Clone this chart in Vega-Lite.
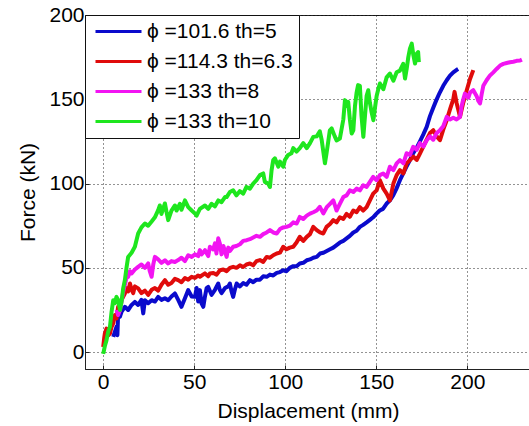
{
  "$schema": "https://vega.github.io/schema/vega-lite/v6.json",
  "width": 446,
  "height": 354,
  "autosize": {"type": "none"},
  "padding": {"left": 85, "top": 15, "right": 0, "bottom": 57},
  "background": "white",
  "config": {
    "view": {"stroke": "#222", "strokeWidth": 1},
    "font": "Liberation Sans",
    "axis": {
      "domainColor": "#222",
      "domainWidth": 1,
      "grid": true,
      "gridColor": "#000",
      "gridDash": [1, 3],
      "gridOpacity": 0.85,
      "ticks": true,
      "tickSize": -4,
      "tickColor": "#222",
      "labelFont": "Liberation Sans",
      "labelFontSize": 21,
      "labelColor": "#000",
      "titleFont": "Liberation Sans",
      "titleFontSize": 21,
      "titleFontWeight": "normal",
      "titleColor": "#000"
    }
  },
  "datasets": {
    "curves": [
      {"s": "ϕ =101.6 th=5", "x": 5.5, "y": 9}, {"s": "ϕ =101.6 th=5", "x": 6.4, "y": 12}, {"s": "ϕ =101.6 th=5", "x": 7.3, "y": 15}, {"s": "ϕ =101.6 th=5", "x": 7.8, "y": 10}, {"s": "ϕ =101.6 th=5", "x": 8.2, "y": 23}, {"s": "ϕ =101.6 th=5", "x": 9.2, "y": 21}, {"s": "ϕ =101.6 th=5", "x": 10.1, "y": 24}, {"s": "ϕ =101.6 th=5", "x": 11.9, "y": 26.9}, {"s": "ϕ =101.6 th=5", "x": 13.7, "y": 25}, {"s": "ϕ =101.6 th=5", "x": 15.6, "y": 28}, {"s": "ϕ =101.6 th=5", "x": 17.4, "y": 29.8}, {"s": "ϕ =101.6 th=5", "x": 19.2, "y": 28}, {"s": "ϕ =101.6 th=5", "x": 21, "y": 31}, {"s": "ϕ =101.6 th=5", "x": 22, "y": 23}, {"s": "ϕ =101.6 th=5", "x": 22.9, "y": 30.8}, {"s": "ϕ =101.6 th=5", "x": 24.7, "y": 29}, {"s": "ϕ =101.6 th=5", "x": 26.6, "y": 30.8}, {"s": "ϕ =101.6 th=5", "x": 28.4, "y": 30}, {"s": "ϕ =101.6 th=5", "x": 30.2, "y": 32.8}, {"s": "ϕ =101.6 th=5", "x": 32, "y": 31}, {"s": "ϕ =101.6 th=5", "x": 33.9, "y": 32}, {"s": "ϕ =101.6 th=5", "x": 35.7, "y": 30.8}, {"s": "ϕ =101.6 th=5", "x": 37.5, "y": 33}, {"s": "ϕ =101.6 th=5", "x": 39.4, "y": 34.8}, {"s": "ϕ =101.6 th=5", "x": 41.2, "y": 31}, {"s": "ϕ =101.6 th=5", "x": 43, "y": 26.9}, {"s": "ϕ =101.6 th=5", "x": 44.9, "y": 32}, {"s": "ϕ =101.6 th=5", "x": 46.7, "y": 36.8}, {"s": "ϕ =101.6 th=5", "x": 48.6, "y": 33}, {"s": "ϕ =101.6 th=5", "x": 50.4, "y": 32.8}, {"s": "ϕ =101.6 th=5", "x": 51.3, "y": 38}, {"s": "ϕ =101.6 th=5", "x": 52.2, "y": 30}, {"s": "ϕ =101.6 th=5", "x": 53.1, "y": 36.8}, {"s": "ϕ =101.6 th=5", "x": 54, "y": 29}, {"s": "ϕ =101.6 th=5", "x": 55, "y": 26.9}, {"s": "ϕ =101.6 th=5", "x": 55.9, "y": 33}, {"s": "ϕ =101.6 th=5", "x": 56.8, "y": 38}, {"s": "ϕ =101.6 th=5", "x": 57.7, "y": 38.7}, {"s": "ϕ =101.6 th=5", "x": 59.5, "y": 34}, {"s": "ϕ =101.6 th=5", "x": 61.4, "y": 37}, {"s": "ϕ =101.6 th=5", "x": 63.2, "y": 40.7}, {"s": "ϕ =101.6 th=5", "x": 64.1, "y": 36.8}, {"s": "ϕ =101.6 th=5", "x": 65, "y": 35}, {"s": "ϕ =101.6 th=5", "x": 66.9, "y": 38}, {"s": "ϕ =101.6 th=5", "x": 68.7, "y": 39}, {"s": "ϕ =101.6 th=5", "x": 69.6, "y": 40.7}, {"s": "ϕ =101.6 th=5", "x": 70.5, "y": 36}, {"s": "ϕ =101.6 th=5", "x": 71.4, "y": 32.8}, {"s": "ϕ =101.6 th=5", "x": 72.3, "y": 37}, {"s": "ϕ =101.6 th=5", "x": 73.3, "y": 40.7}, {"s": "ϕ =101.6 th=5", "x": 75.1, "y": 39}, {"s": "ϕ =101.6 th=5", "x": 76.9, "y": 41}, {"s": "ϕ =101.6 th=5", "x": 78.7, "y": 40}, {"s": "ϕ =101.6 th=5", "x": 80.6, "y": 42.7}, {"s": "ϕ =101.6 th=5", "x": 82.4, "y": 41.5}, {"s": "ϕ =101.6 th=5", "x": 84.2, "y": 43}, {"s": "ϕ =101.6 th=5", "x": 86.1, "y": 43}, {"s": "ϕ =101.6 th=5", "x": 87.9, "y": 45}, {"s": "ϕ =101.6 th=5", "x": 89.8, "y": 44.7}, {"s": "ϕ =101.6 th=5", "x": 91.6, "y": 46}, {"s": "ϕ =101.6 th=5", "x": 93.4, "y": 45.5}, {"s": "ϕ =101.6 th=5", "x": 95.3, "y": 47}, {"s": "ϕ =101.6 th=5", "x": 97.1, "y": 47.5}, {"s": "ϕ =101.6 th=5", "x": 98.9, "y": 48.6}, {"s": "ϕ =101.6 th=5", "x": 100.7, "y": 48}, {"s": "ϕ =101.6 th=5", "x": 102.5, "y": 50}, {"s": "ϕ =101.6 th=5", "x": 104.4, "y": 51}, {"s": "ϕ =101.6 th=5", "x": 106.2, "y": 51}, {"s": "ϕ =101.6 th=5", "x": 108, "y": 52.6}, {"s": "ϕ =101.6 th=5", "x": 109.9, "y": 53}, {"s": "ϕ =101.6 th=5", "x": 111.8, "y": 54.5}, {"s": "ϕ =101.6 th=5", "x": 113.6, "y": 55}, {"s": "ϕ =101.6 th=5", "x": 115.4, "y": 56}, {"s": "ϕ =101.6 th=5", "x": 117.3, "y": 56.5}, {"s": "ϕ =101.6 th=5", "x": 119.1, "y": 58.5}, {"s": "ϕ =101.6 th=5", "x": 121, "y": 59}, {"s": "ϕ =101.6 th=5", "x": 122.8, "y": 60}, {"s": "ϕ =101.6 th=5", "x": 124.6, "y": 61}, {"s": "ϕ =101.6 th=5", "x": 126.4, "y": 62}, {"s": "ϕ =101.6 th=5", "x": 128.2, "y": 63.5}, {"s": "ϕ =101.6 th=5", "x": 130, "y": 65}, {"s": "ϕ =101.6 th=5", "x": 131.9, "y": 66}, {"s": "ϕ =101.6 th=5", "x": 133.7, "y": 67.5}, {"s": "ϕ =101.6 th=5", "x": 135.5, "y": 69}, {"s": "ϕ =101.6 th=5", "x": 137.4, "y": 71}, {"s": "ϕ =101.6 th=5", "x": 139.2, "y": 72}, {"s": "ϕ =101.6 th=5", "x": 141, "y": 74.3}, {"s": "ϕ =101.6 th=5", "x": 142.8, "y": 75.5}, {"s": "ϕ =101.6 th=5", "x": 144.7, "y": 77}, {"s": "ϕ =101.6 th=5", "x": 146.5, "y": 78.5}, {"s": "ϕ =101.6 th=5", "x": 148.3, "y": 80}, {"s": "ϕ =101.6 th=5", "x": 150, "y": 82}, {"s": "ϕ =101.6 th=5", "x": 151.9, "y": 84}, {"s": "ϕ =101.6 th=5", "x": 153.7, "y": 85}, {"s": "ϕ =101.6 th=5", "x": 155.6, "y": 88}, {"s": "ϕ =101.6 th=5", "x": 157.5, "y": 90}, {"s": "ϕ =101.6 th=5", "x": 159.3, "y": 93}, {"s": "ϕ =101.6 th=5", "x": 161.1, "y": 97}, {"s": "ϕ =101.6 th=5", "x": 163, "y": 102}, {"s": "ϕ =101.6 th=5", "x": 164.8, "y": 106}, {"s": "ϕ =101.6 th=5", "x": 166.6, "y": 110}, {"s": "ϕ =101.6 th=5", "x": 168.5, "y": 114}, {"s": "ϕ =101.6 th=5", "x": 170.3, "y": 118}, {"s": "ϕ =101.6 th=5", "x": 172.1, "y": 121}, {"s": "ϕ =101.6 th=5", "x": 174, "y": 125}, {"s": "ϕ =101.6 th=5", "x": 175.8, "y": 129}, {"s": "ϕ =101.6 th=5", "x": 177.7, "y": 133.6}, {"s": "ϕ =101.6 th=5", "x": 179.5, "y": 140}, {"s": "ϕ =101.6 th=5", "x": 181.3, "y": 145}, {"s": "ϕ =101.6 th=5", "x": 183, "y": 149.5}, {"s": "ϕ =101.6 th=5", "x": 184.9, "y": 154}, {"s": "ϕ =101.6 th=5", "x": 186.8, "y": 158}, {"s": "ϕ =101.6 th=5", "x": 188.7, "y": 161.3}, {"s": "ϕ =101.6 th=5", "x": 190.5, "y": 164}, {"s": "ϕ =101.6 th=5", "x": 192.3, "y": 166}, {"s": "ϕ =101.6 th=5", "x": 194.2, "y": 167.5}, {"s": "ϕ =101.6 th=5", "x": 195, "y": 168},

      {"s": "ϕ =114.3 th=6.3", "x": 0, "y": 3}, {"s": "ϕ =114.3 th=6.3", "x": 0.5, "y": 8}, {"s": "ϕ =114.3 th=6.3", "x": 0.9, "y": 11}, {"s": "ϕ =114.3 th=6.3", "x": 1.8, "y": 14}, {"s": "ϕ =114.3 th=6.3", "x": 2.8, "y": 10}, {"s": "ϕ =114.3 th=6.3", "x": 3.7, "y": 11}, {"s": "ϕ =114.3 th=6.3", "x": 4.6, "y": 15}, {"s": "ϕ =114.3 th=6.3", "x": 5.5, "y": 17}, {"s": "ϕ =114.3 th=6.3", "x": 6.4, "y": 22}, {"s": "ϕ =114.3 th=6.3", "x": 7.3, "y": 20}, {"s": "ϕ =114.3 th=6.3", "x": 8.2, "y": 26.9}, {"s": "ϕ =114.3 th=6.3", "x": 9.2, "y": 29}, {"s": "ϕ =114.3 th=6.3", "x": 10.1, "y": 31}, {"s": "ϕ =114.3 th=6.3", "x": 11.9, "y": 34.8}, {"s": "ϕ =114.3 th=6.3", "x": 12.8, "y": 38}, {"s": "ϕ =114.3 th=6.3", "x": 13.7, "y": 36}, {"s": "ϕ =114.3 th=6.3", "x": 14.7, "y": 40.7}, {"s": "ϕ =114.3 th=6.3", "x": 15.6, "y": 37}, {"s": "ϕ =114.3 th=6.3", "x": 16.5, "y": 35}, {"s": "ϕ =114.3 th=6.3", "x": 17.4, "y": 39}, {"s": "ϕ =114.3 th=6.3", "x": 19.2, "y": 37.8}, {"s": "ϕ =114.3 th=6.3", "x": 21, "y": 35}, {"s": "ϕ =114.3 th=6.3", "x": 22.9, "y": 36.5}, {"s": "ϕ =114.3 th=6.3", "x": 24.7, "y": 34}, {"s": "ϕ =114.3 th=6.3", "x": 26.6, "y": 37}, {"s": "ϕ =114.3 th=6.3", "x": 28.4, "y": 38}, {"s": "ϕ =114.3 th=6.3", "x": 30.2, "y": 36.5}, {"s": "ϕ =114.3 th=6.3", "x": 32, "y": 40}, {"s": "ϕ =114.3 th=6.3", "x": 33.9, "y": 42.7}, {"s": "ϕ =114.3 th=6.3", "x": 35.7, "y": 40}, {"s": "ϕ =114.3 th=6.3", "x": 37.5, "y": 41}, {"s": "ϕ =114.3 th=6.3", "x": 39.4, "y": 43.5}, {"s": "ϕ =114.3 th=6.3", "x": 41.2, "y": 42.7}, {"s": "ϕ =114.3 th=6.3", "x": 43, "y": 41.5}, {"s": "ϕ =114.3 th=6.3", "x": 44.9, "y": 44}, {"s": "ϕ =114.3 th=6.3", "x": 46.7, "y": 43}, {"s": "ϕ =114.3 th=6.3", "x": 48.6, "y": 44.7}, {"s": "ϕ =114.3 th=6.3", "x": 50.4, "y": 44}, {"s": "ϕ =114.3 th=6.3", "x": 52.2, "y": 45.5}, {"s": "ϕ =114.3 th=6.3", "x": 53.1, "y": 44.7}, {"s": "ϕ =114.3 th=6.3", "x": 55.9, "y": 46.7}, {"s": "ϕ =114.3 th=6.3", "x": 57.7, "y": 45}, {"s": "ϕ =114.3 th=6.3", "x": 58.6, "y": 46.7}, {"s": "ϕ =114.3 th=6.3", "x": 60.5, "y": 47}, {"s": "ϕ =114.3 th=6.3", "x": 62.3, "y": 46}, {"s": "ϕ =114.3 th=6.3", "x": 64.1, "y": 48.6}, {"s": "ϕ =114.3 th=6.3", "x": 66, "y": 49}, {"s": "ϕ =114.3 th=6.3", "x": 67.8, "y": 48}, {"s": "ϕ =114.3 th=6.3", "x": 69.6, "y": 50}, {"s": "ϕ =114.3 th=6.3", "x": 71.4, "y": 50.6}, {"s": "ϕ =114.3 th=6.3", "x": 73.2, "y": 50}, {"s": "ϕ =114.3 th=6.3", "x": 75.1, "y": 51.5}, {"s": "ϕ =114.3 th=6.3", "x": 76.9, "y": 50.5}, {"s": "ϕ =114.3 th=6.3", "x": 78.7, "y": 52}, {"s": "ϕ =114.3 th=6.3", "x": 80.6, "y": 52.6}, {"s": "ϕ =114.3 th=6.3", "x": 82.4, "y": 51.5}, {"s": "ϕ =114.3 th=6.3", "x": 84.2, "y": 54}, {"s": "ϕ =114.3 th=6.3", "x": 86.1, "y": 54.6}, {"s": "ϕ =114.3 th=6.3", "x": 87.9, "y": 53.5}, {"s": "ϕ =114.3 th=6.3", "x": 89.8, "y": 56.5}, {"s": "ϕ =114.3 th=6.3", "x": 91.6, "y": 56}, {"s": "ϕ =114.3 th=6.3", "x": 93.4, "y": 57.5}, {"s": "ϕ =114.3 th=6.3", "x": 95.3, "y": 58.5}, {"s": "ϕ =114.3 th=6.3", "x": 97.1, "y": 59}, {"s": "ϕ =114.3 th=6.3", "x": 98.9, "y": 62.5}, {"s": "ϕ =114.3 th=6.3", "x": 100.7, "y": 61}, {"s": "ϕ =114.3 th=6.3", "x": 102.5, "y": 62}, {"s": "ϕ =114.3 th=6.3", "x": 104.4, "y": 62.5}, {"s": "ϕ =114.3 th=6.3", "x": 106.2, "y": 65}, {"s": "ϕ =114.3 th=6.3", "x": 108, "y": 68.4}, {"s": "ϕ =114.3 th=6.3", "x": 109.9, "y": 66}, {"s": "ϕ =114.3 th=6.3", "x": 111.8, "y": 68.4}, {"s": "ϕ =114.3 th=6.3", "x": 113.6, "y": 70}, {"s": "ϕ =114.3 th=6.3", "x": 115.4, "y": 74.3}, {"s": "ϕ =114.3 th=6.3", "x": 117.3, "y": 72.4}, {"s": "ϕ =114.3 th=6.3", "x": 119.1, "y": 71}, {"s": "ϕ =114.3 th=6.3", "x": 120.9, "y": 70.4}, {"s": "ϕ =114.3 th=6.3", "x": 122.7, "y": 74.3}, {"s": "ϕ =114.3 th=6.3", "x": 124.6, "y": 76}, {"s": "ϕ =114.3 th=6.3", "x": 126.4, "y": 78.3}, {"s": "ϕ =114.3 th=6.3", "x": 128.2, "y": 77}, {"s": "ϕ =114.3 th=6.3", "x": 130, "y": 80}, {"s": "ϕ =114.3 th=6.3", "x": 131.9, "y": 79}, {"s": "ϕ =114.3 th=6.3", "x": 133.7, "y": 82}, {"s": "ϕ =114.3 th=6.3", "x": 135.5, "y": 80.3}, {"s": "ϕ =114.3 th=6.3", "x": 137.4, "y": 84}, {"s": "ϕ =114.3 th=6.3", "x": 139.2, "y": 83}, {"s": "ϕ =114.3 th=6.3", "x": 141, "y": 86}, {"s": "ϕ =114.3 th=6.3", "x": 142.8, "y": 84}, {"s": "ϕ =114.3 th=6.3", "x": 144.7, "y": 86}, {"s": "ϕ =114.3 th=6.3", "x": 146.5, "y": 90}, {"s": "ϕ =114.3 th=6.3", "x": 148.3, "y": 94}, {"s": "ϕ =114.3 th=6.3", "x": 150.2, "y": 96}, {"s": "ϕ =114.3 th=6.3", "x": 152, "y": 102}, {"s": "ϕ =114.3 th=6.3", "x": 153.9, "y": 97}, {"s": "ϕ =114.3 th=6.3", "x": 155.7, "y": 94}, {"s": "ϕ =114.3 th=6.3", "x": 157.5, "y": 90}, {"s": "ϕ =114.3 th=6.3", "x": 159.4, "y": 100}, {"s": "ϕ =114.3 th=6.3", "x": 161.2, "y": 105}, {"s": "ϕ =114.3 th=6.3", "x": 163, "y": 108}, {"s": "ϕ =114.3 th=6.3", "x": 164.9, "y": 106}, {"s": "ϕ =114.3 th=6.3", "x": 166.7, "y": 112}, {"s": "ϕ =114.3 th=6.3", "x": 168.5, "y": 113.9}, {"s": "ϕ =114.3 th=6.3", "x": 170.4, "y": 116}, {"s": "ϕ =114.3 th=6.3", "x": 172.2, "y": 114}, {"s": "ϕ =114.3 th=6.3", "x": 174, "y": 117.8}, {"s": "ϕ =114.3 th=6.3", "x": 175.9, "y": 122}, {"s": "ϕ =114.3 th=6.3", "x": 177.7, "y": 126}, {"s": "ϕ =114.3 th=6.3", "x": 179.5, "y": 130}, {"s": "ϕ =114.3 th=6.3", "x": 181.3, "y": 131.7}, {"s": "ϕ =114.3 th=6.3", "x": 183.2, "y": 128}, {"s": "ϕ =114.3 th=6.3", "x": 185, "y": 125.7}, {"s": "ϕ =114.3 th=6.3", "x": 186.8, "y": 132}, {"s": "ϕ =114.3 th=6.3", "x": 188.7, "y": 137.6}, {"s": "ϕ =114.3 th=6.3", "x": 190.5, "y": 144}, {"s": "ϕ =114.3 th=6.3", "x": 192.3, "y": 150}, {"s": "ϕ =114.3 th=6.3", "x": 193, "y": 154.4}, {"s": "ϕ =114.3 th=6.3", "x": 194.1, "y": 148}, {"s": "ϕ =114.3 th=6.3", "x": 195, "y": 144}, {"s": "ϕ =114.3 th=6.3", "x": 196, "y": 139.6}, {"s": "ϕ =114.3 th=6.3", "x": 197.8, "y": 148}, {"s": "ϕ =114.3 th=6.3", "x": 199.7, "y": 155.4}, {"s": "ϕ =114.3 th=6.3", "x": 201.5, "y": 162}, {"s": "ϕ =114.3 th=6.3", "x": 203.3, "y": 167.3},

      {"s": "ϕ =133 th=8", "x": 7.3, "y": 25}, {"s": "ϕ =133 th=8", "x": 8.2, "y": 22}, {"s": "ϕ =133 th=8", "x": 9.2, "y": 25}, {"s": "ϕ =133 th=8", "x": 10.1, "y": 30}, {"s": "ϕ =133 th=8", "x": 11, "y": 36}, {"s": "ϕ =133 th=8", "x": 11.9, "y": 40}, {"s": "ϕ =133 th=8", "x": 12.8, "y": 44}, {"s": "ϕ =133 th=8", "x": 13.7, "y": 44.7}, {"s": "ϕ =133 th=8", "x": 14.7, "y": 48}, {"s": "ϕ =133 th=8", "x": 15.6, "y": 46.7}, {"s": "ϕ =133 th=8", "x": 17.4, "y": 49}, {"s": "ϕ =133 th=8", "x": 19.2, "y": 50.6}, {"s": "ϕ =133 th=8", "x": 21, "y": 52}, {"s": "ϕ =133 th=8", "x": 22.9, "y": 50}, {"s": "ϕ =133 th=8", "x": 24.7, "y": 52.6}, {"s": "ϕ =133 th=8", "x": 25.6, "y": 48}, {"s": "ϕ =133 th=8", "x": 26.6, "y": 44.7}, {"s": "ϕ =133 th=8", "x": 27.5, "y": 52}, {"s": "ϕ =133 th=8", "x": 28.4, "y": 56.5}, {"s": "ϕ =133 th=8", "x": 30.2, "y": 55}, {"s": "ϕ =133 th=8", "x": 32, "y": 53}, {"s": "ϕ =133 th=8", "x": 33.9, "y": 54.5}, {"s": "ϕ =133 th=8", "x": 35.7, "y": 52.6}, {"s": "ϕ =133 th=8", "x": 37.5, "y": 54}, {"s": "ϕ =133 th=8", "x": 39.4, "y": 53.5}, {"s": "ϕ =133 th=8", "x": 41.2, "y": 54.6}, {"s": "ϕ =133 th=8", "x": 43, "y": 56}, {"s": "ϕ =133 th=8", "x": 44.9, "y": 54}, {"s": "ϕ =133 th=8", "x": 46.7, "y": 57.5}, {"s": "ϕ =133 th=8", "x": 48.6, "y": 56.5}, {"s": "ϕ =133 th=8", "x": 50.4, "y": 58}, {"s": "ϕ =133 th=8", "x": 52.2, "y": 57}, {"s": "ϕ =133 th=8", "x": 53.1, "y": 60.5}, {"s": "ϕ =133 th=8", "x": 54.1, "y": 58}, {"s": "ϕ =133 th=8", "x": 55.9, "y": 60.5}, {"s": "ϕ =133 th=8", "x": 57.7, "y": 57}, {"s": "ϕ =133 th=8", "x": 58.6, "y": 62.5}, {"s": "ϕ =133 th=8", "x": 60.4, "y": 61}, {"s": "ϕ =133 th=8", "x": 61.4, "y": 64.5}, {"s": "ϕ =133 th=8", "x": 62.2, "y": 58.5}, {"s": "ϕ =133 th=8", "x": 63.2, "y": 67.5}, {"s": "ϕ =133 th=8", "x": 64.1, "y": 64.4}, {"s": "ϕ =133 th=8", "x": 65, "y": 58}, {"s": "ϕ =133 th=8", "x": 66, "y": 63}, {"s": "ϕ =133 th=8", "x": 67.8, "y": 56.5}, {"s": "ϕ =133 th=8", "x": 68.7, "y": 62}, {"s": "ϕ =133 th=8", "x": 69.6, "y": 60}, {"s": "ϕ =133 th=8", "x": 71.4, "y": 62.5}, {"s": "ϕ =133 th=8", "x": 73.2, "y": 63}, {"s": "ϕ =133 th=8", "x": 75.1, "y": 64}, {"s": "ϕ =133 th=8", "x": 76.9, "y": 66}, {"s": "ϕ =133 th=8", "x": 78.8, "y": 66.4}, {"s": "ϕ =133 th=8", "x": 80.6, "y": 67}, {"s": "ϕ =133 th=8", "x": 82.4, "y": 68}, {"s": "ϕ =133 th=8", "x": 84.2, "y": 69}, {"s": "ϕ =133 th=8", "x": 86.1, "y": 68.4}, {"s": "ϕ =133 th=8", "x": 87.9, "y": 70}, {"s": "ϕ =133 th=8", "x": 89.8, "y": 71}, {"s": "ϕ =133 th=8", "x": 91.6, "y": 72.4}, {"s": "ϕ =133 th=8", "x": 93.4, "y": 71}, {"s": "ϕ =133 th=8", "x": 95.3, "y": 70.4}, {"s": "ϕ =133 th=8", "x": 97.1, "y": 73}, {"s": "ϕ =133 th=8", "x": 98.9, "y": 74}, {"s": "ϕ =133 th=8", "x": 100.7, "y": 74.3}, {"s": "ϕ =133 th=8", "x": 102.5, "y": 75}, {"s": "ϕ =133 th=8", "x": 104.4, "y": 77}, {"s": "ϕ =133 th=8", "x": 106.3, "y": 76.3}, {"s": "ϕ =133 th=8", "x": 108, "y": 80.2}, {"s": "ϕ =133 th=8", "x": 109.9, "y": 79}, {"s": "ϕ =133 th=8", "x": 111.8, "y": 81}, {"s": "ϕ =133 th=8", "x": 113.6, "y": 82.2}, {"s": "ϕ =133 th=8", "x": 115.4, "y": 83}, {"s": "ϕ =133 th=8", "x": 117.3, "y": 84}, {"s": "ϕ =133 th=8", "x": 119, "y": 86.2}, {"s": "ϕ =133 th=8", "x": 120.9, "y": 82.3}, {"s": "ϕ =133 th=8", "x": 122.8, "y": 86}, {"s": "ϕ =133 th=8", "x": 124.6, "y": 88}, {"s": "ϕ =133 th=8", "x": 126.4, "y": 90}, {"s": "ϕ =133 th=8", "x": 128.2, "y": 84}, {"s": "ϕ =133 th=8", "x": 130, "y": 88}, {"s": "ϕ =133 th=8", "x": 131.9, "y": 92}, {"s": "ϕ =133 th=8", "x": 133.7, "y": 93}, {"s": "ϕ =133 th=8", "x": 135.5, "y": 96}, {"s": "ϕ =133 th=8", "x": 137.4, "y": 95}, {"s": "ϕ =133 th=8", "x": 139.2, "y": 97}, {"s": "ϕ =133 th=8", "x": 141, "y": 96}, {"s": "ϕ =133 th=8", "x": 142.8, "y": 99}, {"s": "ϕ =133 th=8", "x": 144.7, "y": 98}, {"s": "ϕ =133 th=8", "x": 146.5, "y": 101}, {"s": "ϕ =133 th=8", "x": 148.3, "y": 104}, {"s": "ϕ =133 th=8", "x": 150.2, "y": 102}, {"s": "ϕ =133 th=8", "x": 152, "y": 105}, {"s": "ϕ =133 th=8", "x": 153.8, "y": 106}, {"s": "ϕ =133 th=8", "x": 155.7, "y": 104}, {"s": "ϕ =133 th=8", "x": 157.5, "y": 110}, {"s": "ϕ =133 th=8", "x": 159.4, "y": 108}, {"s": "ϕ =133 th=8", "x": 161.2, "y": 112}, {"s": "ϕ =133 th=8", "x": 163, "y": 113.9}, {"s": "ϕ =133 th=8", "x": 164.9, "y": 112}, {"s": "ϕ =133 th=8", "x": 166.7, "y": 118}, {"s": "ϕ =133 th=8", "x": 168.5, "y": 117}, {"s": "ϕ =133 th=8", "x": 170.3, "y": 121.8}, {"s": "ϕ =133 th=8", "x": 172.2, "y": 120}, {"s": "ϕ =133 th=8", "x": 174, "y": 124}, {"s": "ϕ =133 th=8", "x": 175.9, "y": 122}, {"s": "ϕ =133 th=8", "x": 177.7, "y": 125.7}, {"s": "ϕ =133 th=8", "x": 179.5, "y": 128}, {"s": "ϕ =133 th=8", "x": 181.3, "y": 126}, {"s": "ϕ =133 th=8", "x": 183.2, "y": 130}, {"s": "ϕ =133 th=8", "x": 185, "y": 131.7}, {"s": "ϕ =133 th=8", "x": 186.8, "y": 134}, {"s": "ϕ =133 th=8", "x": 188.7, "y": 139.6}, {"s": "ϕ =133 th=8", "x": 190.5, "y": 138}, {"s": "ϕ =133 th=8", "x": 192.3, "y": 139}, {"s": "ϕ =133 th=8", "x": 194.1, "y": 138}, {"s": "ϕ =133 th=8", "x": 196, "y": 139.6}, {"s": "ϕ =133 th=8", "x": 196.9, "y": 146}, {"s": "ϕ =133 th=8", "x": 197.8, "y": 150}, {"s": "ϕ =133 th=8", "x": 198.7, "y": 153.4}, {"s": "ϕ =133 th=8", "x": 200.6, "y": 151}, {"s": "ϕ =133 th=8", "x": 201.5, "y": 154}, {"s": "ϕ =133 th=8", "x": 203.3, "y": 155.4}, {"s": "ϕ =133 th=8", "x": 205.1, "y": 152}, {"s": "ϕ =133 th=8", "x": 206.1, "y": 149}, {"s": "ϕ =133 th=8", "x": 207, "y": 147.5}, {"s": "ϕ =133 th=8", "x": 207.9, "y": 153}, {"s": "ϕ =133 th=8", "x": 208.8, "y": 158}, {"s": "ϕ =133 th=8", "x": 210.6, "y": 161.3}, {"s": "ϕ =133 th=8", "x": 212.4, "y": 164}, {"s": "ϕ =133 th=8", "x": 214.3, "y": 166}, {"s": "ϕ =133 th=8", "x": 216.1, "y": 168}, {"s": "ϕ =133 th=8", "x": 218, "y": 170}, {"s": "ϕ =133 th=8", "x": 219.8, "y": 171}, {"s": "ϕ =133 th=8", "x": 221.6, "y": 171.5}, {"s": "ϕ =133 th=8", "x": 223.4, "y": 172}, {"s": "ϕ =133 th=8", "x": 225.3, "y": 172.3}, {"s": "ϕ =133 th=8", "x": 227.1, "y": 172.8}, {"s": "ϕ =133 th=8", "x": 229, "y": 173}, {"s": "ϕ =133 th=8", "x": 230, "y": 173.5},

      {"s": "ϕ =133 th=10", "x": 0, "y": -1}, {"s": "ϕ =133 th=10", "x": 1, "y": 4}, {"s": "ϕ =133 th=10", "x": 1.8, "y": 7}, {"s": "ϕ =133 th=10", "x": 2.7, "y": 12}, {"s": "ϕ =133 th=10", "x": 3.7, "y": 15}, {"s": "ϕ =133 th=10", "x": 4.6, "y": 24}, {"s": "ϕ =133 th=10", "x": 5.5, "y": 30.8}, {"s": "ϕ =133 th=10", "x": 6.4, "y": 29}, {"s": "ϕ =133 th=10", "x": 7.3, "y": 32.8}, {"s": "ϕ =133 th=10", "x": 8.2, "y": 31}, {"s": "ϕ =133 th=10", "x": 9.2, "y": 25}, {"s": "ϕ =133 th=10", "x": 10.1, "y": 30}, {"s": "ϕ =133 th=10", "x": 11, "y": 38}, {"s": "ϕ =133 th=10", "x": 11.9, "y": 42.7}, {"s": "ϕ =133 th=10", "x": 12.8, "y": 50}, {"s": "ϕ =133 th=10", "x": 13.7, "y": 56.5}, {"s": "ϕ =133 th=10", "x": 15.6, "y": 59}, {"s": "ϕ =133 th=10", "x": 17.4, "y": 62.5}, {"s": "ϕ =133 th=10", "x": 19.2, "y": 70.4}, {"s": "ϕ =133 th=10", "x": 21, "y": 74}, {"s": "ϕ =133 th=10", "x": 22.9, "y": 76.3}, {"s": "ϕ =133 th=10", "x": 24.7, "y": 75}, {"s": "ϕ =133 th=10", "x": 26.6, "y": 77.5}, {"s": "ϕ =133 th=10", "x": 28.4, "y": 80}, {"s": "ϕ =133 th=10", "x": 30.2, "y": 84.2}, {"s": "ϕ =133 th=10", "x": 31.1, "y": 87}, {"s": "ϕ =133 th=10", "x": 32, "y": 82}, {"s": "ϕ =133 th=10", "x": 33.9, "y": 88.2}, {"s": "ϕ =133 th=10", "x": 34.8, "y": 83}, {"s": "ϕ =133 th=10", "x": 35.7, "y": 78.3}, {"s": "ϕ =133 th=10", "x": 37.5, "y": 84}, {"s": "ϕ =133 th=10", "x": 39.4, "y": 87}, {"s": "ϕ =133 th=10", "x": 40.3, "y": 84}, {"s": "ϕ =133 th=10", "x": 42.1, "y": 88}, {"s": "ϕ =133 th=10", "x": 43, "y": 84.5}, {"s": "ϕ =133 th=10", "x": 44.9, "y": 90}, {"s": "ϕ =133 th=10", "x": 46.7, "y": 86}, {"s": "ϕ =133 th=10", "x": 48.6, "y": 84}, {"s": "ϕ =133 th=10", "x": 50.4, "y": 82.3}, {"s": "ϕ =133 th=10", "x": 51.3, "y": 81}, {"s": "ϕ =133 th=10", "x": 53.1, "y": 85}, {"s": "ϕ =133 th=10", "x": 55.9, "y": 87}, {"s": "ϕ =133 th=10", "x": 57.7, "y": 85}, {"s": "ϕ =133 th=10", "x": 59.5, "y": 88}, {"s": "ϕ =133 th=10", "x": 61.4, "y": 86.5}, {"s": "ϕ =133 th=10", "x": 63.2, "y": 90}, {"s": "ϕ =133 th=10", "x": 65, "y": 89}, {"s": "ϕ =133 th=10", "x": 66.9, "y": 92}, {"s": "ϕ =133 th=10", "x": 67.8, "y": 92}, {"s": "ϕ =133 th=10", "x": 69.6, "y": 95}, {"s": "ϕ =133 th=10", "x": 71.4, "y": 96}, {"s": "ϕ =133 th=10", "x": 73.2, "y": 93}, {"s": "ϕ =133 th=10", "x": 75, "y": 95.5}, {"s": "ϕ =133 th=10", "x": 76.9, "y": 94}, {"s": "ϕ =133 th=10", "x": 78.7, "y": 98}, {"s": "ϕ =133 th=10", "x": 80.6, "y": 97}, {"s": "ϕ =133 th=10", "x": 82.4, "y": 100}, {"s": "ϕ =133 th=10", "x": 84.2, "y": 102}, {"s": "ϕ =133 th=10", "x": 86.1, "y": 105}, {"s": "ϕ =133 th=10", "x": 87.9, "y": 106}, {"s": "ϕ =133 th=10", "x": 88.8, "y": 101}, {"s": "ϕ =133 th=10", "x": 90.6, "y": 100}, {"s": "ϕ =133 th=10", "x": 91.6, "y": 98}, {"s": "ϕ =133 th=10", "x": 92.5, "y": 108}, {"s": "ϕ =133 th=10", "x": 93.4, "y": 113.9}, {"s": "ϕ =133 th=10", "x": 94.3, "y": 115}, {"s": "ϕ =133 th=10", "x": 96.2, "y": 110}, {"s": "ϕ =133 th=10", "x": 97.1, "y": 113}, {"s": "ϕ =133 th=10", "x": 98.9, "y": 110}, {"s": "ϕ =133 th=10", "x": 99.8, "y": 114}, {"s": "ϕ =133 th=10", "x": 101.6, "y": 117}, {"s": "ϕ =133 th=10", "x": 103.4, "y": 118}, {"s": "ϕ =133 th=10", "x": 104.4, "y": 121}, {"s": "ϕ =133 th=10", "x": 106.2, "y": 119}, {"s": "ϕ =133 th=10", "x": 108, "y": 121}, {"s": "ϕ =133 th=10", "x": 109.9, "y": 124}, {"s": "ϕ =133 th=10", "x": 111.8, "y": 121}, {"s": "ϕ =133 th=10", "x": 113.6, "y": 124}, {"s": "ϕ =133 th=10", "x": 115.4, "y": 127.7}, {"s": "ϕ =133 th=10", "x": 117.3, "y": 128}, {"s": "ϕ =133 th=10", "x": 119, "y": 131}, {"s": "ϕ =133 th=10", "x": 120, "y": 126}, {"s": "ϕ =133 th=10", "x": 121.8, "y": 112}, {"s": "ϕ =133 th=10", "x": 122.7, "y": 118}, {"s": "ϕ =133 th=10", "x": 124.5, "y": 131.6}, {"s": "ϕ =133 th=10", "x": 125.5, "y": 132.7}, {"s": "ϕ =133 th=10", "x": 127.2, "y": 128}, {"s": "ϕ =133 th=10", "x": 128.2, "y": 125.6}, {"s": "ϕ =133 th=10", "x": 130, "y": 126.7}, {"s": "ϕ =133 th=10", "x": 131.9, "y": 138}, {"s": "ϕ =133 th=10", "x": 132.8, "y": 149.5}, {"s": "ϕ =133 th=10", "x": 133.7, "y": 146}, {"s": "ϕ =133 th=10", "x": 134.6, "y": 148.5}, {"s": "ϕ =133 th=10", "x": 135.5, "y": 138}, {"s": "ϕ =133 th=10", "x": 136.5, "y": 129.7}, {"s": "ϕ =133 th=10", "x": 137.4, "y": 131.6}, {"s": "ϕ =133 th=10", "x": 138.3, "y": 146}, {"s": "ϕ =133 th=10", "x": 139.2, "y": 154}, {"s": "ϕ =133 th=10", "x": 140, "y": 158.4}, {"s": "ϕ =133 th=10", "x": 141, "y": 158}, {"s": "ϕ =133 th=10", "x": 141.9, "y": 140}, {"s": "ϕ =133 th=10", "x": 142.9, "y": 127.7}, {"s": "ϕ =133 th=10", "x": 143.8, "y": 140}, {"s": "ϕ =133 th=10", "x": 144.7, "y": 152}, {"s": "ϕ =133 th=10", "x": 145.6, "y": 155.4}, {"s": "ϕ =133 th=10", "x": 146.5, "y": 148}, {"s": "ϕ =133 th=10", "x": 147.5, "y": 142}, {"s": "ϕ =133 th=10", "x": 148.4, "y": 137.6}, {"s": "ϕ =133 th=10", "x": 149.3, "y": 145}, {"s": "ϕ =133 th=10", "x": 150.2, "y": 152}, {"s": "ϕ =133 th=10", "x": 151.1, "y": 156}, {"s": "ϕ =133 th=10", "x": 152, "y": 159.4}, {"s": "ϕ =133 th=10", "x": 153.9, "y": 156}, {"s": "ϕ =133 th=10", "x": 155.7, "y": 163}, {"s": "ϕ =133 th=10", "x": 157.5, "y": 165.3}, {"s": "ϕ =133 th=10", "x": 159.4, "y": 161}, {"s": "ϕ =133 th=10", "x": 161.2, "y": 166}, {"s": "ϕ =133 th=10", "x": 163, "y": 167}, {"s": "ϕ =133 th=10", "x": 164.8, "y": 171}, {"s": "ϕ =133 th=10", "x": 165.8, "y": 162.3}, {"s": "ϕ =133 th=10", "x": 166.7, "y": 168}, {"s": "ϕ =133 th=10", "x": 167.6, "y": 175}, {"s": "ϕ =133 th=10", "x": 168.5, "y": 180}, {"s": "ϕ =133 th=10", "x": 169.5, "y": 183}, {"s": "ϕ =133 th=10", "x": 170.4, "y": 176}, {"s": "ϕ =133 th=10", "x": 171.3, "y": 171.2}, {"s": "ϕ =133 th=10", "x": 172.2, "y": 177}, {"s": "ϕ =133 th=10", "x": 173, "y": 178}, {"s": "ϕ =133 th=10", "x": 173.4, "y": 172}
    ]
  },
  "data": {"name": "curves"},
  "mark": {"type": "line", "strokeWidth": 4, "clip": true, "strokeJoin": "round"},
  "encoding": {
    "x": {
      "field": "x",
      "type": "quantitative",
      "scale": {"domain": [-10, 235], "nice": false, "zero": false},
      "axis": {"values": [0, 50, 100, 150, 200], "title": "Displacement (mm)", "labelPadding": 6, "titlePadding": 8}
    },
    "y": {
      "field": "y",
      "type": "quantitative",
      "scale": {"domain": [-10, 200], "nice": false, "zero": false},
      "axis": {"values": [0, 50, 100, 150, 200], "title": "Force (kN)", "labelPadding": 5, "titlePadding": 10}
    },
    "color": {
      "field": "s",
      "type": "nominal",
      "scale": {
        "domain": ["ϕ =101.6 th=5", "ϕ =114.3 th=6.3", "ϕ =133 th=8", "ϕ =133 th=10"],
        "range": ["#0a0acc", "#e00b0b", "#f214f2", "#1ee61e"]
      },
      "legend": {
        "title": null,
        "orient": "top-left",
        "offset": 0,
        "padding": 6,
        "fillColor": "white",
        "strokeColor": "#111",
        "cornerRadius": 0,
        "symbolType": "M-4.6,0H4.6",
        "symbolSize": 100,
        "symbolStrokeWidth": 3,
        "symbolOffset": 17,
        "labelOffset": 18,
        "labelFont": "Liberation Sans",
        "labelFontSize": 21,
        "labelColor": "#000",
        "labelLimit": 400,
        "rowPadding": 8
      }
    }
  }
}
